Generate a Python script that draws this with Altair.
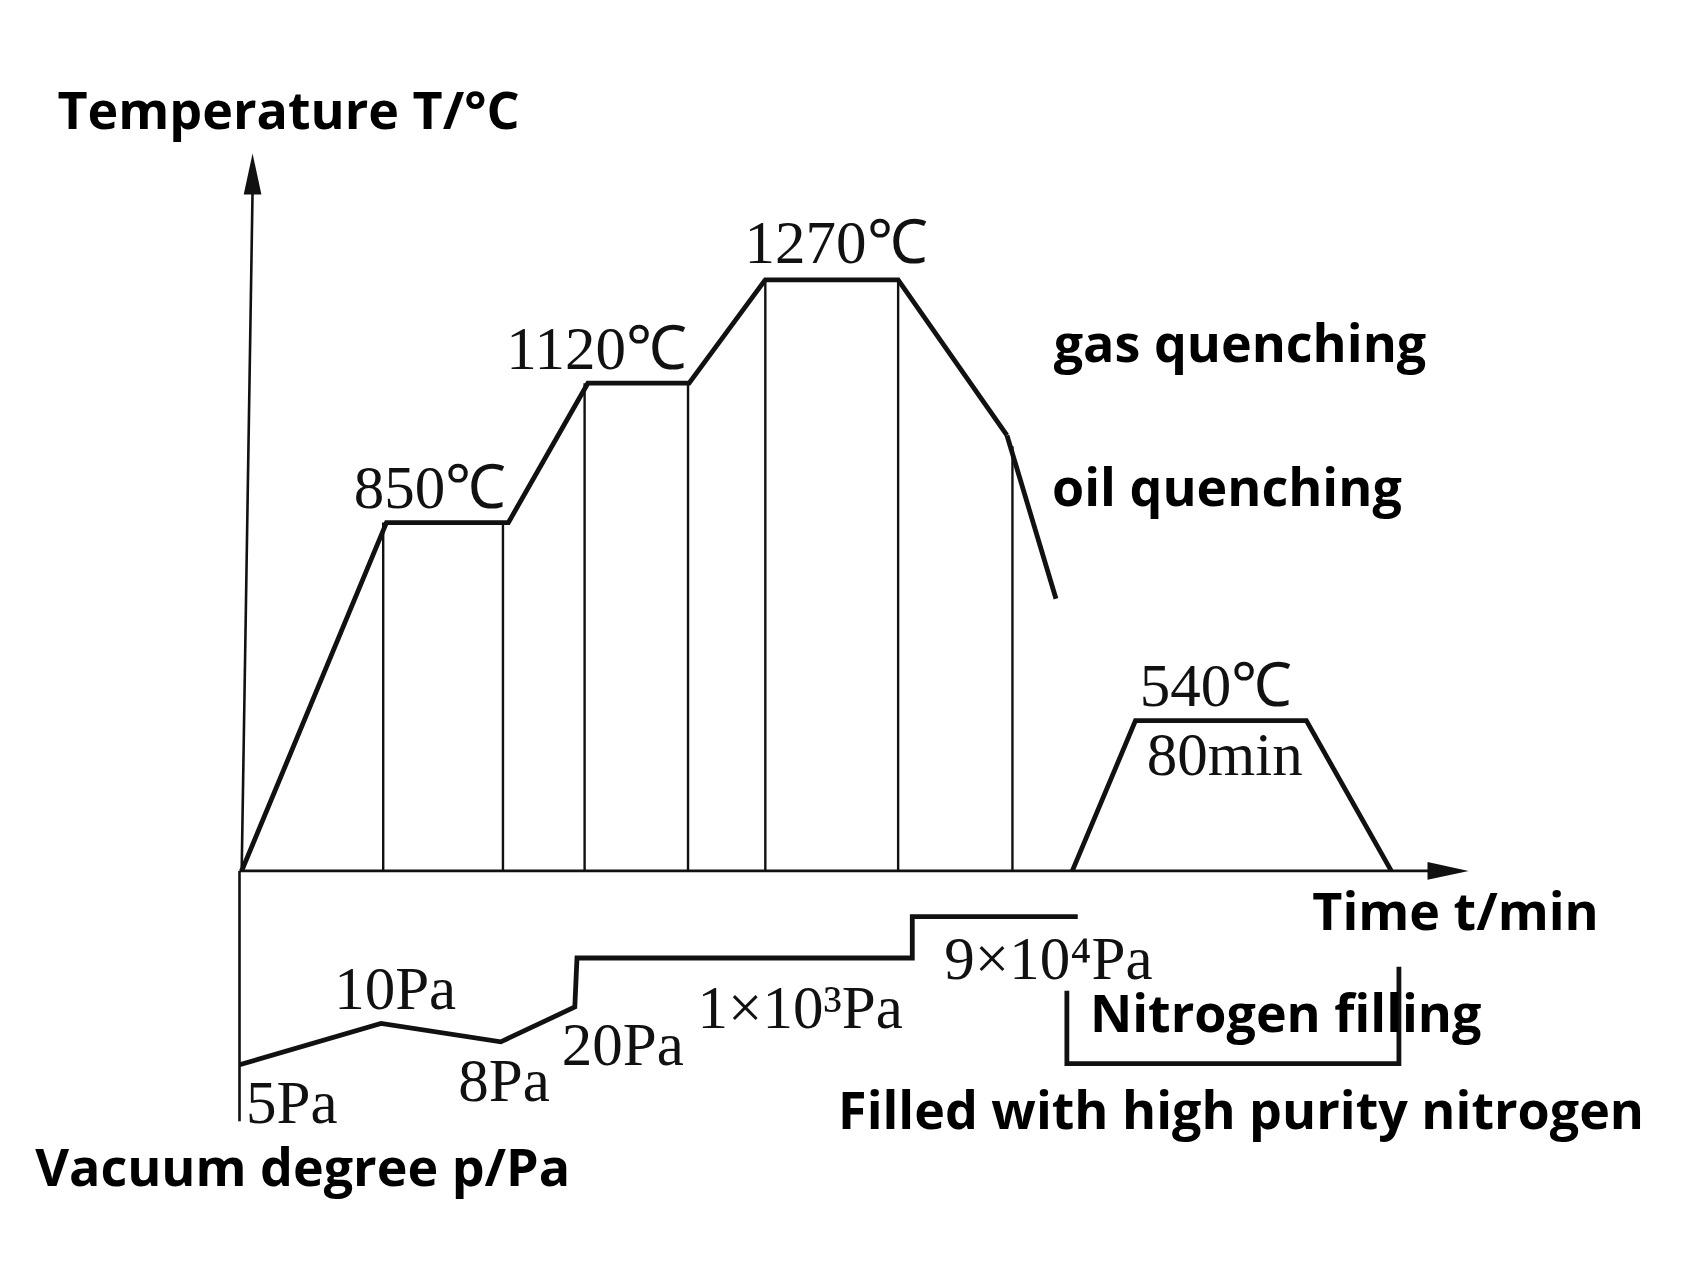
import altair as alt
import pandas as pd

# scale factor between the diagram units (reference drawn at 1568 px wide) and the page
S = 1707 / 1568
W, H = 1691, 1263

# ---- diagram data (schematic units) ----
prof_x = [222, 355, 467, 540, 633, 703, 825, 925]
prof_y = [800, 480, 480, 352, 352, 257, 257, 400]
oil_x = [925, 970]
oil_y = [400, 550]
temper_x = [985, 1043, 1200, 1278]
temper_y = [800, 662, 662, 800]
press_x = [220, 350, 460, 528, 530, 838, 838, 990]
press_y = [978, 940, 957, 925, 880, 880, 842, 842]
bracket_x = [980, 980, 1285, 1285]
bracket_y = [910, 977, 977, 888]
vert_x = [352, 462, 537, 632, 703, 825, 930]
vert_top = [480, 480, 352, 352, 257, 257, 410]
base_y = 800

serif_text = ["850℃", "1120℃", "1270℃", "540℃", "80min", "10Pa", "5Pa", "8Pa", "20Pa", "1×10³Pa", "9×10⁴Pa"]
serif_x = [395, 548, 768, 1117, 1125, 363, 268, 463, 572, 735, 963]
serif_y = [450, 322, 225, 632, 695, 910, 1015, 995, 962, 928, 883]

sans_text = ["Temperature T/°C", "gas quenching", "oil quenching", "Time t/min",
             "Nitrogen filling", "Filled with high purity nitrogen", "Vacuum degree p/Pa"]
sans_x = [265, 1139, 1127, 1337, 1181, 1140, 278]
sans_y = [104, 318, 450, 840, 933, 1022, 1075]


def segs(list_of_xy):
    rows = []
    for s, (xs_, ys_) in enumerate(list_of_xy):
        for i, (a, b) in enumerate(zip(xs_, ys_)):
            rows.append({"seg": s, "o": i, "x": a, "y": b})
    return pd.DataFrame(rows)


xs = alt.Scale(domain=[8 / S, (8 + W) / S], nice=False, zero=False)
ys = alt.Scale(domain=[8 / S, (8 + H) / S], nice=False, zero=False, reverse=True)
X = lambda f="x": alt.X(f"{f}:Q", scale=xs, axis=None)
Y = lambda f="y": alt.Y(f"{f}:Q", scale=ys, axis=None)
INK = "#111111"

thick = segs([(prof_x, prof_y), (oil_x, oil_y), (temper_x, temper_y),
              (press_x, press_y), (bracket_x, bracket_y)])
thin = segs([([vx, vx], [vt, base_y]) for vx, vt in zip(vert_x, vert_top)])
axes = segs([([222, 232], [800, 175]), ([220, 1315], [800, 800]), ([220, 220], [800, 1030])])

def line_layer(df, width):
    return alt.Chart(df).mark_line(color=INK, strokeWidth=width, strokeJoin="miter",
                                   strokeCap="butt").encode(
        x=X(), y=Y(), detail="seg:N", order="o:Q")

heads = pd.DataFrame({"x": [232, 1320], "y": [170, 800], "shape": ["up", "right"]})
head_up = alt.Chart(heads[heads["shape"] == "up"]).mark_point(
    shape="M0,-1L0.28,0.3L-0.28,0.3Z", filled=True, color=INK, opacity=1, size=4000).encode(x=X(), y=Y())
head_right = alt.Chart(heads[heads["shape"] == "right"]).mark_point(
    shape="M1,0L-0.3,0.28L-0.3,-0.28Z", filled=True, color=INK, opacity=1, size=4000).encode(x=X(), y=Y())

serif_df = pd.DataFrame({"x": serif_x, "y": serif_y, "t": serif_text})
sans_df = pd.DataFrame({"x": sans_x, "y": sans_y, "t": sans_text})

serif = alt.Chart(serif_df).mark_text(font="Liberation Serif", fontSize=61, color=INK,
                                      align="center", baseline="middle").encode(x=X(), y=Y(), text="t:N")
sans = alt.Chart(sans_df).mark_text(font="Open Sans", fontWeight=700, fontSize=52, color="#000000",
                                    align="center", baseline="middle").encode(x=X(), y=Y(), text="t:N")

chart = alt.layer(
    line_layer(axes, 2.6), line_layer(thin, 2.4), line_layer(thick, 4.8),
    head_up, head_right, serif, sans
).properties(width=W, height=H, padding=0, autosize=alt.AutoSizeParams(type="none"),
             background="white").configure_view(stroke=None)

chart.save("out.html", embed_options={"renderer": "svg", "actions": False})
